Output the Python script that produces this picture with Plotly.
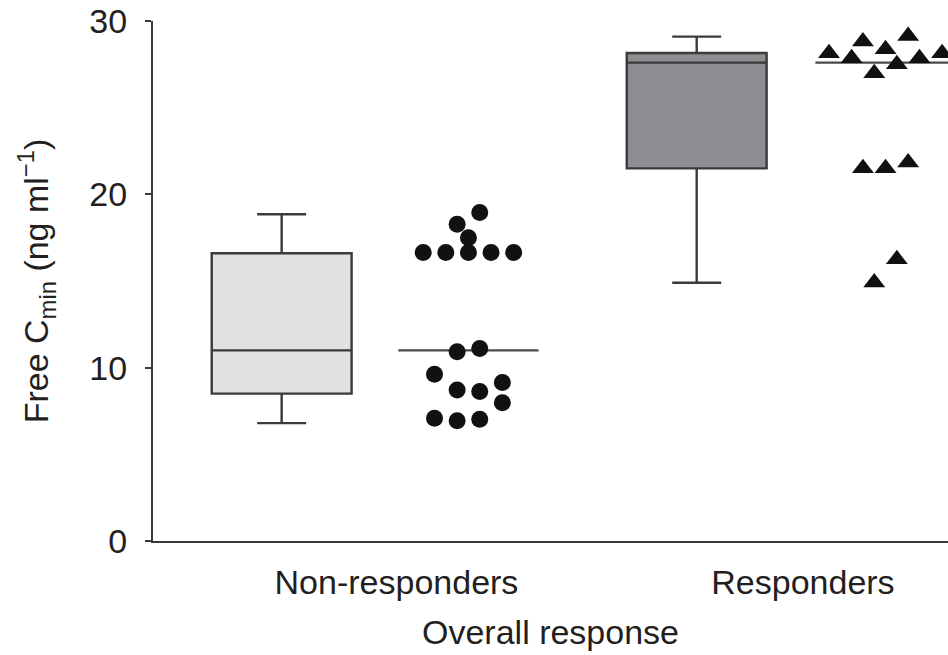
import plotly.graph_objects as go

# ---- data -------------------------------------------------------------
groups = ["Non-responders", "Responders"]

# box summaries (ng/ml)
box_q1 = [8.5, 21.5]
box_median = [11.0, 27.6]
box_q3 = [16.6, 28.15]
box_low = [6.8, 14.9]
box_high = [18.85, 29.1]

# individual patients, Non-responders
nr_values = [18.95, 18.27, 17.5, 16.64, 16.64, 16.64, 16.64, 16.64,
             10.92, 11.11, 9.62, 8.71, 8.62, 9.14, 7.98, 7.08, 6.94, 7.02]
nr_slots = [0.5, -0.5, 0, -2, -1, 0, 1, 2,
            -0.5, 0.5, -1.5, -0.5, 0.5, 1.5, 1.5, -1.5, -0.5, 0.5]

# individual patients, Responders
r_values = [28.14, 28.82, 27.85, 28.37, 29.14, 26.99, 27.5, 27.85, 28.14,
            21.5, 21.5, 21.83, 16.25, 14.92]
r_slots = [-2.5, -1, -1.5, 0, 1, -0.5, 0.5, 1.5, 2.5,
           -1, 0, 1, 0.5, -0.5]

y_ticks = [0, 10, 20, 30]

# ---- layout helpers -------------------------------------------------------
box_pos = [0.0, 1.0]
swarm_pos = [0.45, 1.455]
label_pos = [0.2766, 1.256]
slot_w = 0.0545
med_half = 0.169

TXT = "#231f20"
LINE = "#3a3a3a"
font_family = "Liberation Sans, Arial, Helvetica, sans-serif"

fig = go.Figure()

box_fills = ["#e0e1e3", "#8d8e92"]
for i in range(2):
    fig.add_trace(go.Box(
        x=[box_pos[i]],
        q1=[box_q1[i]], median=[box_median[i]], q3=[box_q3[i]],
        lowerfence=[box_low[i]], upperfence=[box_high[i]],
        width=0.337, whiskerwidth=0.35,
        fillcolor=box_fills[i],
        line=dict(color=LINE, width=2.4),
        boxpoints=False, showlegend=False, hoverinfo="skip",
    ))

# median lines over the scatter columns
for i, vals in enumerate([nr_values, r_values]):
    fig.add_trace(go.Scatter(
        x=[swarm_pos[i] - med_half, swarm_pos[i] + med_half],
        y=[box_median[i], box_median[i]],
        mode="lines", line=dict(color="#4a4a4a", width=2.4),
        showlegend=False, hoverinfo="skip", cliponaxis=False,
    ))

fig.add_trace(go.Scatter(
    x=[swarm_pos[0] + s * slot_w for s in nr_slots], y=nr_values,
    mode="markers",
    marker=dict(symbol="circle", size=17, color="#111111", line=dict(width=0)),
    showlegend=False, cliponaxis=False,
))
fig.add_trace(go.Scatter(
    x=[swarm_pos[1] + s * slot_w for s in r_slots], y=r_values,
    mode="markers",
    marker=dict(symbol="triangle-up", size=19, color="#111111", line=dict(width=0)),
    showlegend=False, cliponaxis=False,
))

fig.update_layout(
    width=948, height=655,
    margin=dict(l=153, r=0, t=21, b=114, autoexpand=False),
    paper_bgcolor="white", plot_bgcolor="white",
    font=dict(family=font_family, color=TXT, size=33),
    xaxis=dict(
        range=[-0.310, 1.6055], showgrid=False, zeroline=False,
        showline=True, linecolor=LINE, linewidth=2,
        tickvals=label_pos, ticktext=groups, ticks="",
        ticklabelstandoff=10,
        tickfont=dict(size=34, color=TXT),
        title=dict(text="Overall response", font=dict(size=34, color=TXT), standoff=20),
        automargin=False,
    ),
    yaxis=dict(
        range=[0, 30], showgrid=False, zeroline=False,
        showline=True, linecolor=LINE, linewidth=2,
        tickvals=y_ticks, ticks="outside", ticklen=6, tickwidth=2, tickcolor=LINE,
        ticklabelstandoff=11,
        tickfont=dict(size=34, color=TXT),
        title=dict(text="Free C<sub>min</sub> (ng ml<sup>\u22121</sup>)",
                   font=dict(size=34, color=TXT), standoff=30),
        automargin=False,
    ),
)

fig.write_html("out.html")
